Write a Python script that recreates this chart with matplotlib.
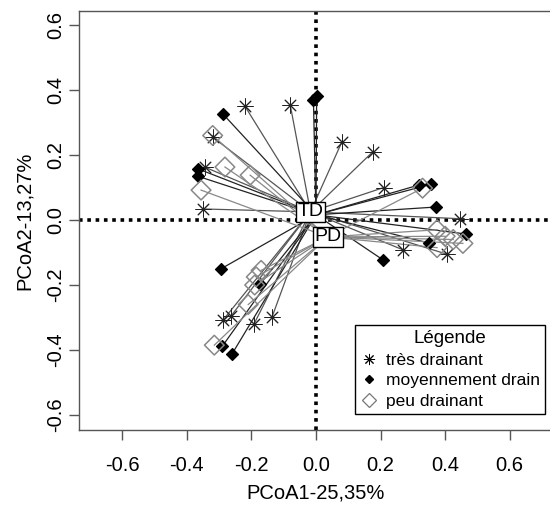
import numpy as np
import matplotlib
matplotlib.use("Agg")
import matplotlib.pyplot as plt
from matplotlib.lines import Line2D

plt.rcParams['font.family'] = ['Liberation Sans', 'DejaVu Sans']
plt.rcParams['axes.unicode_minus'] = False

# --- data (PCoA scores) ---
td_x = [-0.22, -0.08, 0.08, 0.176, 0.21, -0.32, -0.345, -0.35, 0.446, 0.27, 0.405,
        -0.288, -0.263, -0.192, -0.136]
td_y = [0.35, 0.355, 0.24, 0.21, 0.10, 0.255, 0.163, 0.034, 0.004, -0.092, -0.105,
        -0.308, -0.295, -0.32, -0.298]

md_x = [-0.288, -0.367, -0.367, -0.008, 0.002, 0.32, 0.356, 0.372, 0.464, 0.35, 0.208,
        -0.294, -0.173, -0.29, -0.26]
md_y = [0.326, 0.158, 0.135, 0.37, 0.38, 0.108, 0.11, 0.04, -0.043, -0.071, -0.123,
        -0.15, -0.197, -0.388, -0.412]

pd_x = [-0.32, -0.282, -0.204, -0.356, 0.33, 0.375, 0.40, 0.425, 0.455, 0.375,
        -0.17, -0.185, -0.21, -0.315, -0.19]
pd_y = [0.26, 0.163, 0.138, 0.092, 0.098, -0.03, -0.05, -0.06, -0.072, -0.085,
        -0.155, -0.175, -0.26, -0.385, -0.2]

# group centroids (spider centres)
cent_x = [-0.017, 0.0, 0.036]
cent_y = [0.025, 0.016, -0.052]
cent_labels = ["TD", "", "PD"]

groups = ["très drainant", "moyennement drain", "peu drainant"]
x_ticks = [-0.6, -0.4, -0.2, 0.0, 0.2, 0.4, 0.6]
y_ticks = [-0.6, -0.4, -0.2, 0.0, 0.2, 0.4, 0.6]

fig = plt.figure(figsize=(5.5, 5.14), dpi=100)
ax = fig.add_axes([79/550, 1-430/514, (553-79)/550, (430-11)/514])
ax.set_xlim(-0.734, 0.734)
ax.set_ylim(-0.646, 0.643)

# reference dotted lines
ax.axhline(0, color='black', lw=2.6, ls=(0, (1.0, 1.3)), dash_capstyle='butt', zorder=1)
ax.axvline(0, color='black', lw=2.6, ls=(0, (1.0, 1.3)), dash_capstyle='butt', zorder=1)

sets = [(td_x, td_y), (md_x, md_y), (pd_x, pd_y)]
line_cols = ['#555555', '#222222', '#888888']
for (xs, ys), lc, cx, cy in zip(sets, line_cols, cent_x, cent_y):
    for x, y in zip(xs, ys):
        ax.plot([cx, x], [cy, y], color=lc, lw=0.9, zorder=2)

ax.scatter(td_x, td_y, marker=(8, 2, 0), s=120, color='#222222', linewidths=0.7, zorder=3)
ax.scatter(md_x, md_y, marker='D', s=36, color='black', zorder=3)
ax.scatter(pd_x, pd_y, marker='D', s=100, facecolor='none', edgecolor='#888888',
           linewidths=1.1, zorder=3)

for i in [2, 0]:
    ax.text(cent_x[i], cent_y[i], cent_labels[i], fontsize=14, ha='center', va='center', zorder=5,
            bbox=dict(boxstyle='square,pad=0.08', fc='white', ec='black', lw=1))

ax.set_xticks(x_ticks)
ax.set_yticks(y_ticks)
ax.set_xticklabels([f"{v:.1f}" for v in x_ticks], fontsize=14.5)
ax.set_yticklabels([f"{v:.1f}" for v in y_ticks], fontsize=14.5, rotation=90, va='center')
ax.tick_params(axis='both', length=7, width=1, color='#555555', direction='out')
ax.tick_params(axis='x', pad=12)
ax.tick_params(axis='y', pad=3)
for s in ax.spines.values():
    s.set_color('#555555')
    s.set_linewidth(1.0)

ax.set_xlabel("PCoA1-25,35%", fontsize=14.5, labelpad=6)
ax.set_ylabel("PCoA2-13,27%", fontsize=14.5, labelpad=9)

# legend
hs = [Line2D([], [], marker=(8, 2, 0), ls='none', color='black', markersize=8, markeredgewidth=0.7),
      Line2D([], [], marker='D', ls='none', color='black', markersize=4),
      Line2D([], [], marker='D', ls='none', markerfacecolor='none', markeredgecolor='#777777',
             markersize=7, markeredgewidth=0.9)]
leg = ax.legend(hs, groups, title="Légende", loc='upper left',
                bbox_to_anchor=(355/550, 1-325/514), bbox_transform=fig.transFigure,
                fontsize=12.5, title_fontsize=13.5, frameon=True, fancybox=False,
                edgecolor='black', framealpha=1, borderpad=0.3, labelspacing=0.3,
                handlelength=1.0, handletextpad=0.5, borderaxespad=0)
leg.get_frame().set_linewidth(1.0)
leg._legend_box.sep = 4

fig.savefig("out.png", dpi=100)
